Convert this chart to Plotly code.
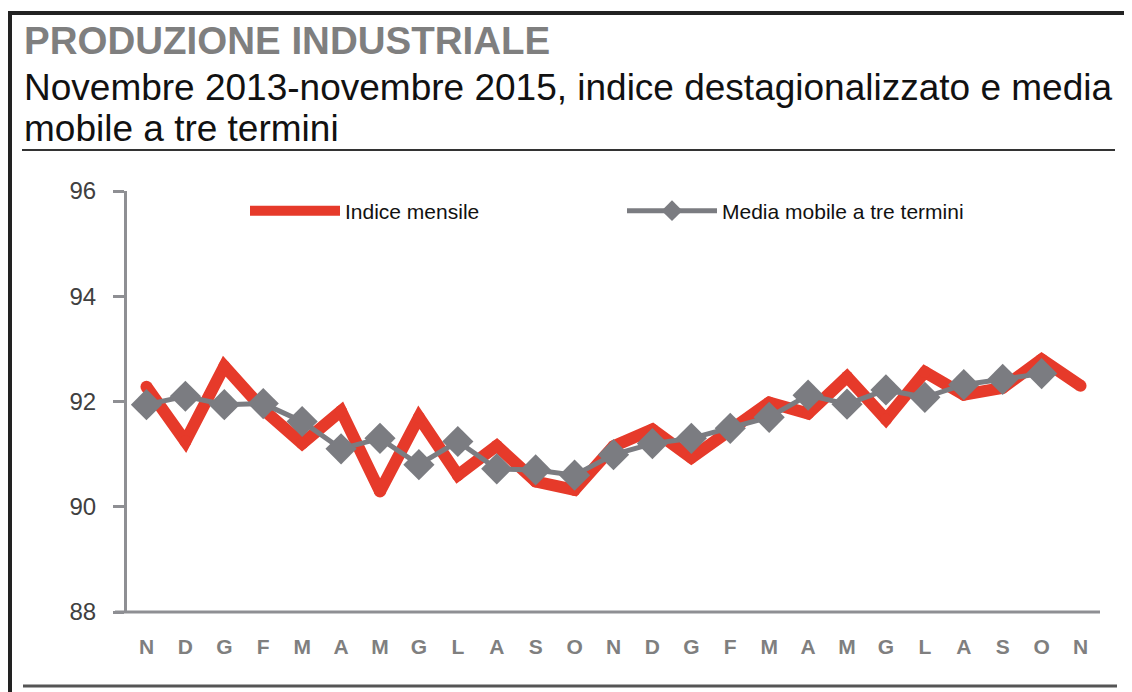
import plotly.graph_objects as go

# mesi, novembre 2013 - novembre 2015
mesi = ["N", "D", "G", "F", "M", "A", "M", "G", "L", "A", "S", "O",
        "N", "D", "G", "F", "M", "A", "M", "G", "L", "A", "S", "O", "N"]

# indice destagionalizzato
indice_mensile = [92.28, 91.24, 92.67, 91.85, 91.20, 91.82, 90.29, 91.70, 90.60,
                  91.16, 90.48, 90.32, 91.15, 91.47, 90.93, 91.45, 91.98, 91.77,
                  92.47, 91.66, 92.56, 92.13, 92.26, 92.80, 92.30]

# media mobile a tre termini
media_mobile = [91.94, 92.10, 91.94, 91.96, 91.62, 91.10, 91.30, 90.80, 91.24,
                90.72, 90.70, 90.60, 90.99, 91.20, 91.30, 91.49, 91.70, 92.12,
                91.95, 92.22, 92.08, 92.32, 92.42, 92.53, None]

y_ticks = [88, 90, 92, 94, 96]

x = list(range(len(mesi)))

RED = "#e63a2a"
GRAY = "#7b7c81"
AXIS = "#8e8f93"

fig = go.Figure()
fig.add_trace(go.Scatter(x=x, y=indice_mensile, name="Indice mensile", mode="lines",
                         line=dict(color=RED, width=12)))
# pallini per arrotondare gli spigoli della linea spessa (fuori legenda)
fig.add_trace(go.Scatter(x=x, y=indice_mensile, mode="markers", showlegend=False,
                         hoverinfo="skip",
                         marker=dict(symbol="circle", size=12, color=RED)))
fig.add_trace(go.Scatter(x=x, y=media_mobile, name="Media mobile a tre termini",
                         mode="lines+markers",
                         line=dict(color=GRAY, width=5),
                         marker=dict(symbol="diamond", size=24, color=GRAY)))

# la pagina ha un margine di 8px: le coordinate sotto sono quelle dello schermo
OFF = 8
W, H = 1132 - OFF, 692 - OFF
L, R, T, B = 127 - OFF, 32, 191 - OFF, 80
pw = W - L - R
ph = H - T - B


def px_x(p):
    return (p - OFF - L) / pw


def px_y(p):
    return (H - B - (p - OFF)) / ph


fig.add_annotation(text="<b>PRODUZIONE INDUSTRIALE</b>", x=px_x(22), y=px_y(41),
                   xref="paper", yref="paper", xanchor="left", yanchor="middle",
                   showarrow=False, font=dict(size=38.5, color="#7f7f7f"))
fig.add_annotation(text="Novembre 2013-novembre 2015, indice destagionalizzato e media",
                   x=px_x(22), y=px_y(87), xref="paper", yref="paper",
                   xanchor="left", yanchor="middle", showarrow=False,
                   font=dict(size=37, color="#111111"))
fig.add_annotation(text="mobile a tre termini",
                   x=px_x(22), y=px_y(129), xref="paper", yref="paper",
                   xanchor="left", yanchor="middle", showarrow=False,
                   font=dict(size=37, color="#111111"))

# cornice e filetti
fig.add_shape(type="line", xref="paper", yref="paper", x0=px_x(8), x1=px_x(1140),
              y0=px_y(13), y1=px_y(13), line=dict(color="#222222", width=4))
fig.add_shape(type="line", xref="paper", yref="paper", x0=px_x(10), x1=px_x(10),
              y0=px_y(11), y1=px_y(700), line=dict(color="#222222", width=4))
fig.add_shape(type="line", xref="paper", yref="paper", x0=px_x(22), x1=px_x(1115),
              y0=px_y(150), y1=px_y(150), line=dict(color="#333333", width=2))
fig.add_shape(type="line", xref="paper", yref="paper", x0=px_x(23), x1=px_x(1117),
              y0=px_y(686), y1=px_y(686), line=dict(color="#555555", width=3))
# asse x prolungato a sinistra
fig.add_shape(type="line", xref="paper", yref="paper", x0=px_x(115), x1=1,
              y0=0, y1=0, line=dict(color=AXIS, width=3))

fig.update_layout(
    width=W, height=H,
    margin=dict(l=L, r=R, t=T, b=B),
    paper_bgcolor="white", plot_bgcolor="white",
    font=dict(family="Liberation Sans, Arial, sans-serif"),
    showlegend=True,
    legend=dict(orientation="h", x=px_x(245), y=px_y(211), xanchor="left", yanchor="middle",
                font=dict(family="Liberation Sans, Arial", size=21, color="#111111"),
                entrywidth=272, entrywidthmode="pixels", bgcolor="rgba(0,0,0,0)",
                itemwidth=90),
    xaxis=dict(range=[-0.5, len(mesi) - 0.5], tickmode="array", tickvals=x, ticktext=mesi,
               showgrid=False, zeroline=False, showline=False, ticks="",
               tickfont=dict(size=21, color="#7f7f7f", weight="bold"),
               ticklabelstandoff=20),
    yaxis=dict(range=[88, 96], tickmode="array", tickvals=y_ticks,
               showgrid=False, zeroline=False, showline=True, linecolor=AXIS, linewidth=3,
               ticks="outside", ticklen=11, tickwidth=3, tickcolor=AXIS,
               tickfont=dict(size=24, color="#404040"), ticklabelstandoff=12),
    yaxis2=dict(range=[88, 96], overlaying="y", side="left", tickmode="array",
                tickvals=y_ticks, showticklabels=False, showgrid=False, zeroline=False,
                showline=False, ticks="inside", ticklen=11, tickwidth=3, tickcolor=AXIS),
)

fig.write_html("out.html")
